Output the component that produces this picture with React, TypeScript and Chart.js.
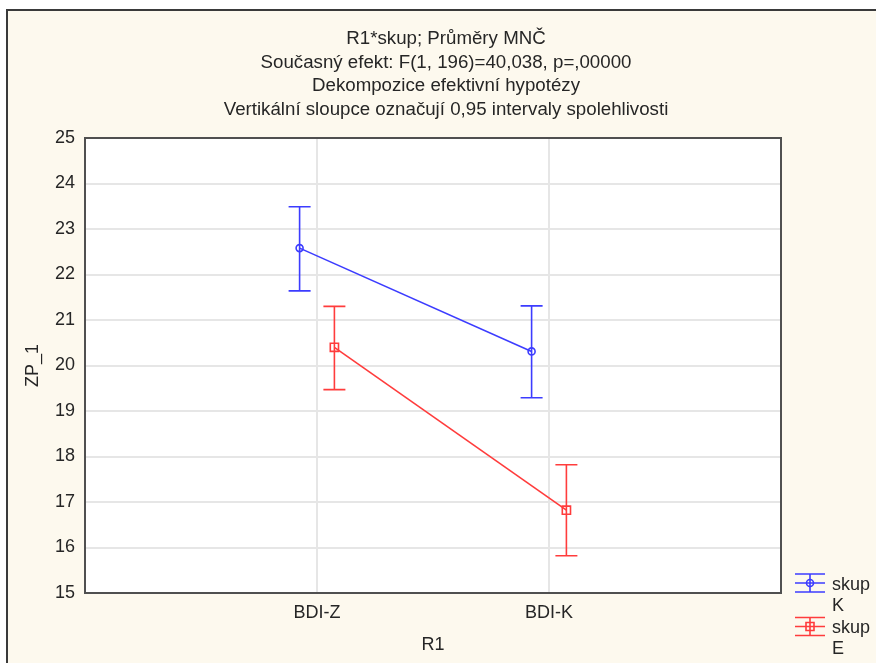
import React, { useEffect, useRef } from "react";
import { Chart, registerables } from "chart.js";

Chart.register(...registerables);

// ---- data ----
const categories = ["BDI-Z", "BDI-K"];
const groupNames = ["K", "E"];
const groupLabel = "skup";
const meansK = [22.58, 20.31];
const lowerK = [21.64, 19.29];
const upperK = [23.49, 21.31];
const meansE = [20.4, 16.82];
const lowerE = [19.47, 15.82];
const upperE = [21.3, 17.82];
const groupOffsets = [-0.075, 0.075];
const yMin = 15;
const yMax = 25;
const titleLines = [
  "R1*skup; Průměry MNČ",
  "Současný efekt: F(1, 196)=40,038, p=,00000",
  "Dekompozice efektivní hypotézy",
  "Vertikální sloupce označují 0,95 intervaly spolehlivosti",
];
const xTitle = "R1";
const yTitle = "ZP_1";

const FONT = "'Liberation Sans', Arial, sans-serif";
const TEXT = "#262626";
const BLUE = "#3c3cff";
const RED = "#ff3c3c";

const series = [
  { name: groupNames[0], mean: meansK, lower: lowerK, upper: upperK, color: BLUE, style: "circle" },
  { name: groupNames[1], mean: meansE, lower: lowerE, upper: upperE, color: RED, style: "rect" },
];

const framePlugin = {
  id: "frame",
  beforeDraw(chart: any) {
    const { ctx, width, height, chartArea } = chart;
    ctx.save();
    ctx.fillStyle = "#ffffff";
    ctx.fillRect(0, 0, width, height);
    ctx.fillStyle = "#fdf9ee";
    ctx.fillRect(7, 10, width, height);
    ctx.strokeStyle = "#3a3a3a";
    ctx.lineWidth = 2;
    ctx.beginPath();
    ctx.moveTo(7, height + 2);
    ctx.lineTo(7, 10);
    ctx.lineTo(width + 2, 10);
    ctx.stroke();
    ctx.fillStyle = "#ffffff";
    ctx.fillRect(chartArea.left, chartArea.top, chartArea.right - chartArea.left, chartArea.bottom - chartArea.top);
    // title
    ctx.fillStyle = TEXT;
    ctx.font = `18.7px ${FONT}`;
    ctx.textAlign = "center";
    ctx.textBaseline = "alphabetic";
    titleLines.forEach((t, i) => ctx.fillText(t, 446, 44 + i * 23.7));
    ctx.restore();
  },
  afterDatasetsDraw(chart: any) {
    const { ctx } = chart;
    const y = chart.scales.y;
    series.forEach((s, di) => {
      const meta = chart.getDatasetMeta(di);
      ctx.save();
      ctx.strokeStyle = s.color;
      ctx.lineWidth = 1.6;
      meta.data.forEach((pt: any, i: number) => {
        const x = pt.x;
        const yl = y.getPixelForValue(s.lower[i]);
        const yu = y.getPixelForValue(s.upper[i]);
        ctx.beginPath();
        ctx.moveTo(x, yl);
        ctx.lineTo(x, yu);
        ctx.moveTo(x - 11, yl);
        ctx.lineTo(x + 11, yl);
        ctx.moveTo(x - 11, yu);
        ctx.lineTo(x + 11, yu);
        ctx.stroke();
      });
      ctx.restore();
    });
  },
  afterDraw(chart: any) {
    const { ctx, chartArea } = chart;
    ctx.save();
    ctx.strokeStyle = "#505050";
    ctx.lineWidth = 2;
    ctx.strokeRect(chartArea.left, chartArea.top, chartArea.right - chartArea.left, chartArea.bottom - chartArea.top);
    // legend
    const legendY = [583, 626.5];
    series.forEach((s, i) => {
      const cy = legendY[i];
      ctx.strokeStyle = s.color;
      ctx.lineWidth = 1.6;
      ctx.beginPath();
      ctx.moveTo(795, cy);
      ctx.lineTo(825, cy);
      ctx.moveTo(795, cy - 9);
      ctx.lineTo(825, cy - 9);
      ctx.moveTo(795, cy + 9);
      ctx.lineTo(825, cy + 9);
      ctx.moveTo(810, cy - 9);
      ctx.lineTo(810, cy + 9);
      ctx.stroke();
      ctx.beginPath();
      if (s.style === "circle") ctx.arc(810, cy, 3.5, 0, Math.PI * 2);
      else ctx.rect(806, cy - 4, 8, 8);
      ctx.stroke();
      ctx.fillStyle = TEXT;
      ctx.font = `18px ${FONT}`;
      ctx.textAlign = "left";
      ctx.textBaseline = "alphabetic";
      ctx.fillText(groupLabel, 832, cy + 6.5);
      ctx.fillText(s.name, 832, cy + 27.5);
    });
    ctx.restore();
  },
};

export default function App() {
  const ref = useRef<HTMLCanvasElement>(null);
  useEffect(() => {
    if (!ref.current) return;
    const chart = new Chart(ref.current, {
      type: "line",
      data: {
        datasets: series.map((s, si) => ({
          label: s.name,
          data: s.mean.map((v, i) => ({ x: i + 1 + groupOffsets[si], y: v })),
          borderColor: s.color,
          borderWidth: 1.6,
          pointStyle: s.style as any,
          pointRadius: s.style === "circle" ? 3.5 : 5.8,
          pointBorderColor: s.color,
          pointBackgroundColor: "rgba(0,0,0,0)",
          pointBorderWidth: 1.6,
          fill: false,
          tension: 0,
        })),
      },
      options: {
        responsive: false,
        animation: false,
        devicePixelRatio: 1,
        layout: { padding: { top: 138, right: 95, left: 0, bottom: 0 } },
        plugins: { legend: { display: false }, tooltip: { enabled: false }, title: { display: false } },
        scales: {
          x: {
            type: "linear",
            min: 0,
            max: 3,
            afterBuildTicks: (scale: any) => {
              scale.ticks = categories.map((_, i) => ({ value: i + 1 }));
            },
            afterFit: (scale: any) => {
              scale.height = 70;
            },
            ticks: {
              callback: (v: any) => categories[Number(v) - 1] ?? "",
              font: { family: FONT, size: 18 },
              color: TEXT,
              padding: 9,
              maxRotation: 0,
              autoSkip: false,
            },
            grid: { color: "#e6e6e6", lineWidth: 2, drawTicks: false },
            border: { display: false },
            title: { display: true, text: xTitle, font: { family: FONT, size: 18 }, color: TEXT, padding: { top: 0, bottom: 7 } },
          },
          y: {
            min: yMin,
            max: yMax,
            afterFit: (scale: any) => {
              scale.width = 85;
            },
            ticks: { stepSize: 1, font: { family: FONT, size: 18 }, color: TEXT, padding: 10 },
            grid: { color: "#e6e6e6", lineWidth: 2, drawTicks: false },
            border: { display: false },
            title: { display: true, text: yTitle, font: { family: FONT, size: 18 }, color: TEXT, padding: { top: 22, bottom: 0 } },
          },
        },
      },
      plugins: [framePlugin],
    });
    return () => chart.destroy();
  }, []);
  return (
    <div style={{ position: "absolute", left: 0, top: 0, width: 876, height: 663 }}>
      <canvas ref={ref} width={876} height={663} style={{ width: 876, height: 663, display: "block" }} />
    </div>
  );
}
